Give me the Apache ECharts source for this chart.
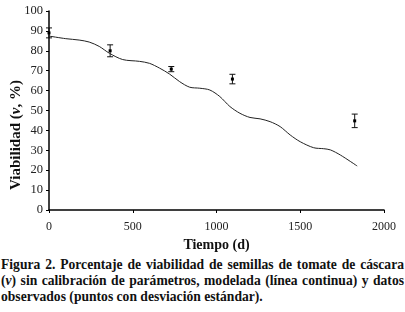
<!DOCTYPE html>
<html>
<head>
<meta charset="utf-8">
<script src="https://cdn.jsdelivr.net/npm/echarts@6/dist/echarts.min.js"></script>
<style>
  body { margin: 0; background: #fff; }
  #chart { width: 405px; height: 252px; }
  #caption {
    width: 403px; margin: 5px 1px 0 1px;
    font-family: "Liberation Serif", "DejaVu Serif", serif;
    font-weight: bold; font-size: 13.6px; line-height: 16px;
    text-align: justify; color: #111;
  }
</style>
</head>
<body>
<div id="chart"></div>
<div id="caption">Figura 2. Porcentaje de viabilidad de semillas de tomate de cáscara (<i>v</i>) sin calibración de parámetros, modelada (línea continua) y datos observados (puntos con desviación estándar).</div>
<script>
// modelo (linea continua)
const modelDays = [0, 100, 180, 240, 300, 360, 440, 540, 600, 660, 720, 780, 840, 900, 960, 1020, 1080, 1140, 1200, 1260, 1320, 1380, 1440, 1500, 1580, 1640, 1680, 1740, 1840];
const modelViab = [87.4, 86.1, 85.4, 84.4, 82.2, 78.8, 75.6, 74.7, 73.7, 71.3, 68.3, 64.5, 61.7, 61.2, 60.3, 57.0, 52.0, 48.6, 46.5, 45.8, 44.4, 41.9, 37.7, 34.3, 31.3, 30.8, 30.2, 27.6, 22.1];
// datos observados
const obsDays = [0, 365, 730, 1095, 1825];
const obsViab = [89.0, 80.0, 70.8, 65.8, 44.8];
const obsSd = [2.5, 3.0, 1.3, 2.4, 3.4];

const font = '"Liberation Serif", "DejaVu Serif", serif';
const chart = echarts.init(document.getElementById('chart'));

const option = {
  animation: false,
  grid: { left: 49, right: 21, top: 11, bottom: 42, outerBoundsMode: 'none' },
  // titulo del eje y
  graphic: [{
    type: 'text', x: 16, y: 135, rotation: Math.PI / 2,
    style: {
      text: '{b|Viabilidad (}{i|v}{b|, %)}',
      align: 'center', verticalAlign: 'middle',
      rich: {
        b: { fontFamily: font, fontWeight: 'bold', fontSize: 15, fill: '#111' },
        i: { fontFamily: font, fontWeight: 'bold', fontStyle: 'italic', fontSize: 15, fill: '#111' }
      }
    }
  }],
  xAxis: {
    type: 'value', min: 0, max: 2000, interval: 500,
    name: 'Tiempo (d)', nameLocation: 'middle', nameGap: 26,
    nameTextStyle: { fontFamily: font, fontWeight: 'bold', fontSize: 14, color: '#111' },
    axisLine: { lineStyle: { color: '#000', width: 1.5 } },
    axisTick: { show: true, length: 3, lineStyle: { color: '#000' } },
    axisLabel: { fontFamily: font, fontSize: 12, color: '#222', margin: 11, formatter: v => String(v) },
    splitLine: { show: false }
  },
  yAxis: {
    type: 'value', min: 0, max: 100, interval: 10,
    axisLine: { show: true, lineStyle: { color: '#000', width: 1.5 } },
    axisTick: { show: true, length: 3, lineStyle: { color: '#000' } },
    axisLabel: { fontFamily: font, fontSize: 12.5, color: '#222', margin: 6 },
    splitLine: { show: false }
  },
  series: [
    {
      type: 'line',
      data: modelDays.map((d, i) => [d, modelViab[i]]),
      smooth: 0.3,
      showSymbol: false,
      lineStyle: { color: '#222', width: 1 }
    },
    {
      type: 'custom',
      data: obsDays.map((d, i) => [d, obsViab[i], obsSd[i]]),
      renderItem: function (params, api) {
        const x = api.value(0), y = api.value(1), sd = api.value(2);
        const top = api.coord([x, y + sd]);
        const bot = api.coord([x, y - sd]);
        const mid = api.coord([x, y]);
        const cap = 3;
        const st = { stroke: '#111', lineWidth: 1 };
        return {
          type: 'group',
          children: [
            { type: 'line', shape: { x1: top[0], y1: top[1], x2: bot[0], y2: bot[1] }, style: st },
            { type: 'line', shape: { x1: top[0] - cap, y1: top[1], x2: top[0] + cap, y2: top[1] }, style: st },
            { type: 'line', shape: { x1: bot[0] - cap, y1: bot[1], x2: bot[0] + cap, y2: bot[1] }, style: st },
            { type: 'rect', shape: { x: mid[0] - 1.5, y: mid[1] - 1.5, width: 3, height: 3 }, style: { fill: '#000' } }
          ]
        };
      }
    }
  ]
};
chart.setOption(option);
</script>
</body>
</html>
